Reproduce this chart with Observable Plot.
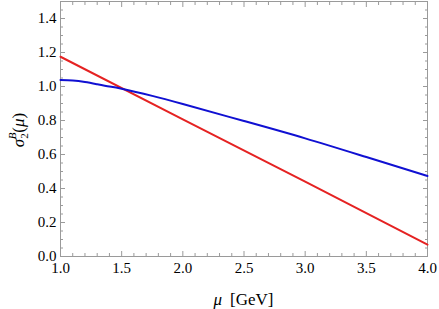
<!DOCTYPE html>
<html>
<head>
<meta charset="utf-8">
<script src="https://cdn.jsdelivr.net/npm/d3@7"></script>
<script src="https://cdn.jsdelivr.net/npm/@observablehq/plot@0.6"></script>
</head>
<body style="margin:0">
<div id="chart"></div>
<script>
// Blue curve samples (mu, sigma)
const blueMu    = [1.0, 1.1, 1.2, 1.3, 1.4, 1.5, 1.75, 2.0, 2.5, 3.0, 3.5, 4.0];
const blueSigma = [1.038, 1.035, 1.026, 1.013, 1.0, 0.987, 0.945, 0.897, 0.797, 0.695, 0.585, 0.474];
// Red line samples
const redMu    = [1.0, 2.0, 3.0, 4.0];
const redSigma = [1.175, 0.807, 0.44, 0.07];

// Tick values
const xMajor = [1.0, 1.5, 2.0, 2.5, 3.0, 3.5, 4.0];
const xMinor = [1.1,1.2,1.3,1.4,1.6,1.7,1.8,1.9,2.1,2.2,2.3,2.4,2.6,2.7,2.8,2.9,3.1,3.2,3.3,3.4,3.6,3.7,3.8,3.9];
const yMajor = [0.0, 0.2, 0.4, 0.6, 0.8, 1.0, 1.2, 1.4];
const yMinor = [0.05,0.1,0.15,0.25,0.3,0.35,0.45,0.5,0.55,0.65,0.7,0.75,0.85,0.9,0.95,1.05,1.1,1.15,1.25,1.3,1.35,1.45];

const blueData = blueMu.map((m, i) => ({mu: m, s: blueSigma[i]}));
const redData = redMu.map((m, i) => ({mu: m, s: redSigma[i]}));

const gray = "#9a9a9a";
const none = () => "";
const MAJ = 5, MIN = 3;
const serif = "Liberation Serif";

const svg = Plot.plot({
  width: 439,
  height: 309,
  marginLeft: 60,
  marginRight: 12,
  marginTop: 1,
  marginBottom: 53,
  style: {fontSize: "15px"},
  x: {domain: [1, 4]},
  y: {domain: [0, 1.5]},
  marks: [
    // tick marks pointing inward, all four sides
    Plot.axisY({anchor: "left", ticks: yMinor, tickSize: MIN, dx: MIN, tickFormat: none, label: null, stroke: gray}),
    Plot.axisY({anchor: "left", ticks: yMajor, tickSize: MAJ, dx: MAJ, tickFormat: none, label: null, stroke: gray}),
    Plot.axisY({anchor: "right", ticks: yMinor, tickSize: MIN, dx: -MIN, tickFormat: none, label: null, stroke: gray}),
    Plot.axisY({anchor: "right", ticks: yMajor, tickSize: MAJ, dx: -MAJ, tickFormat: none, label: null, stroke: gray}),
    Plot.axisX({anchor: "bottom", ticks: xMinor, tickSize: MIN, dy: -MIN, tickFormat: none, label: null, stroke: gray}),
    Plot.axisX({anchor: "bottom", ticks: xMajor, tickSize: MAJ, dy: -MAJ, tickFormat: none, label: null, stroke: gray}),
    Plot.axisX({anchor: "top", ticks: xMinor, tickSize: MIN, dy: MIN, tickFormat: none, label: null, stroke: gray}),
    Plot.axisX({anchor: "top", ticks: xMajor, tickSize: MAJ, dy: MAJ, tickFormat: none, label: null, stroke: gray}),
    // tick labels
    Plot.axisY({anchor: "left", ticks: yMajor, tickSize: 0, tickPadding: 4, tickFormat: d => d.toFixed(1), label: null, fontFamily: serif}),
    Plot.axisX({anchor: "bottom", ticks: xMajor, tickSize: 0, tickPadding: 6, tickFormat: d => d.toFixed(1), label: null, fontFamily: serif}),
    Plot.frame({stroke: gray}),
    Plot.line(redData, {x: "mu", y: "s", stroke: "#e52222", strokeWidth: 2}),
    Plot.line(blueData, {x: "mu", y: "s", stroke: "#1010d2", strokeWidth: 2, curve: "natural"})
  ]
});

// Axis titles with mixed styling, as real text
const s = d3.select(svg);
const xt = s.append("text")
  .attr("x", 243.5).attr("y", 305)
  .attr("text-anchor", "middle")
  .attr("font-family", serif)
  .attr("font-size", 17);
xt.append("tspan").attr("font-style", "italic").text("μ");
xt.append("tspan").attr("dx", 8).text("[GeV]");

const yt = s.append("text")
  .attr("transform", "translate(24,130) rotate(-90)")
  .attr("text-anchor", "middle")
  .attr("font-family", serif)
  .attr("font-size", 17);
yt.append("tspan").attr("font-style", "italic").text("σ");
yt.append("tspan").attr("font-size", 11).attr("dy", 4).text("2");
yt.append("tspan").attr("font-size", 11).attr("font-style", "italic").attr("dx", -6).attr("dy", -12).text("B");
yt.append("tspan").attr("dy", 8).text("(");
yt.append("tspan").attr("font-style", "italic").text("μ");
yt.append("tspan").text(")");

document.getElementById("chart").appendChild(svg);
</script>
</body>
</html>
